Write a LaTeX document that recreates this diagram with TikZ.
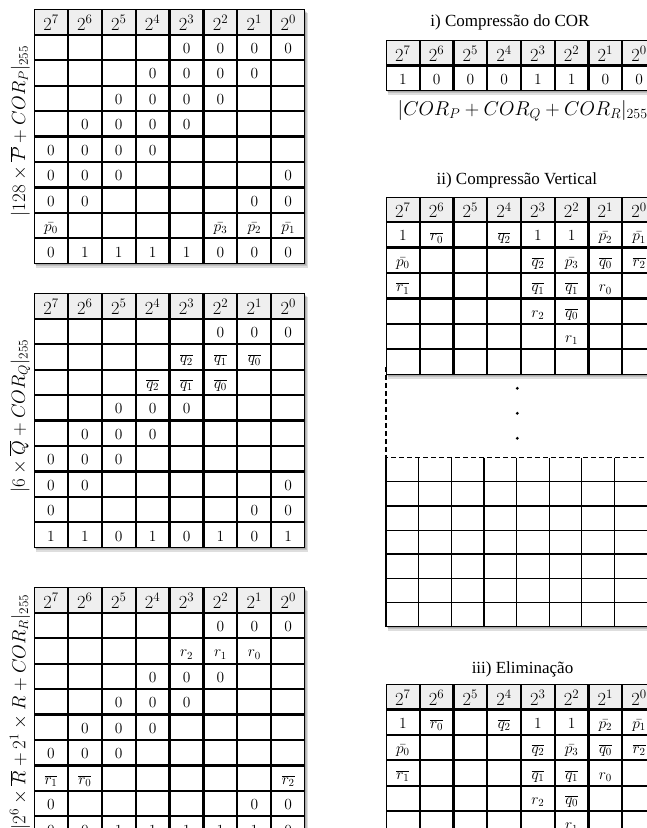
\documentclass[tikz,border=0pt]{standalone}
\usepackage{fix-cm}
\usepackage{fontspec}
\newfontfamily\titlefont{Liberation Serif}
\usetikzlibrary{matrix,backgrounds,calc}
\definecolor{hdr}{HTML}{EFEFEF}
\tikzset{
  cellbox/.style={draw=black, line width=1.1pt, fill=white, minimum width=32.8pt, minimum height=24.35pt, inner sep=0pt, outer sep=0pt, text height=13pt, text depth=1pt, font=\fontsize{15.5}{18}\selectfont},
  hdrbox/.style={fill=hdr, text height=17pt, text depth=0pt, font=\fontsize{18.5}{21}\selectfont},
  rcellbox/.style={cellbox, minimum width=32.65pt},
  tab/.style={matrix of math nodes, nodes in empty cells, anchor=north west, inner sep=0pt, outer sep=0pt, column sep=0pt, row sep=0pt, nodes={cellbox}, row 1/.style={nodes={hdrbox}}},
  rtab/.style={tab, nodes={rcellbox}},
  sidelabel/.style={rotate=90, font=\fontsize{19}{22}\selectfont, inner sep=0pt},
  titletext/.style={anchor=base, font=\titlefont\fontsize{17}{20}\selectfont, inner sep=0pt},
  shadowfill/.style={fill=black, opacity=0.13},
  gridline/.style={line width=1.1pt},
  dashline/.style={line width=1.1pt, dash pattern=on 5pt off 3pt},
}
\newcommand\tabshadow[2]{%
  \foreach \s in {1,2,3}{\fill[shadowfill] ($(#1)+(0.8*\s,-1.3*\s)$) rectangle ($(#2)+(0.8*\s,-1.3*\s)$);}}
\begin{document}
\begin{tikzpicture}[x=1pt,y=1pt]
\useasboundingbox (0,0) rectangle (647,828);

% ---------- left tables ----------
\matrix (t1) [tab] at (34,818.7) {
2^7 & 2^6 & 2^5 & 2^4 & 2^3 & 2^2 & 2^1 & 2^0 \\
 & & & & 0 & 0 & 0 & 0 \\
 & & & 0 & 0 & 0 & 0 & \\
 & & 0 & 0 & 0 & 0 & & \\
 & 0 & 0 & 0 & 0 & & & \\
0 & 0 & 0 & 0 & & & & \\
0 & 0 & 0 & & & & & 0 \\
0 & 0 & & & & & 0 & 0 \\
\bar{p_0} & & & & & \bar{p_3} & \bar{p_2} & \bar{p_1} \\
0 & 1 & 1 & 1 & 1 & 0 & 0 & 0 \\
};
\node[sidelabel] (l1) at (20,697) {$|128\times\overline{P}+COR_P|_{255}$};

\matrix (t2) [tab] at (34,534.7) {
2^7 & 2^6 & 2^5 & 2^4 & 2^3 & 2^2 & 2^1 & 2^0 \\
 & & & & & 0 & 0 & 0 \\
 & & & & \overline{q_2} & \overline{q_1} & \overline{q_0} & \\
 & & & \overline{q_2} & \overline{q_1} & \overline{q_0} & & \\
 & & 0 & 0 & 0 & & & \\
 & 0 & 0 & 0 & & & & \\
0 & 0 & 0 & & & & & \\
0 & 0 & & & & & & 0 \\
0 & & & & & & 0 & 0 \\
1 & 1 & 0 & 1 & 0 & 1 & 0 & 1 \\
};
\node[sidelabel] (l2) at (20,412) {$|6\times\overline{Q}+COR_Q|_{255}$};

\matrix (t3) [tab] at (34,240.7) {
2^7 & 2^6 & 2^5 & 2^4 & 2^3 & 2^2 & 2^1 & 2^0 \\
 & & & & & 0 & 0 & 0 \\
 & & & & r_2 & r_1 & r_0 & \\
 & & & 0 & 0 & 0 & & \\
 & & 0 & 0 & 0 & & & \\
 & 0 & 0 & 0 & & & & \\
0 & 0 & 0 & & & & & \\
\overline{r_1} & \overline{r_0} & & & & & & \overline{r_2} \\
0 & & & & & & 0 & 0 \\
0 & 0 & 1 & 1 & 1 & 1 & 1 & 0 \\
};
\node[sidelabel] (l3) at (20,116) {$|2^6\times\overline{R}+2^1\times R+COR_R|_{255}$};

% ---------- i) ----------
\node[titletext] (ti) at (510,801) {i) Compressão do COR};
\matrix (tA) [rtab] at (386,788) {
2^7 & 2^6 & 2^5 & 2^4 & 2^3 & 2^2 & 2^1 & 2^0 \\
1 & 0 & 0 & 0 & 1 & 1 & 0 & 0 \\
};
\node[anchor=base west, inner sep=0pt, font=\fontsize{20}{24}\selectfont] (fA) at (397.5,712) {$|COR_P+COR_Q+COR_R|_{255}$};

% ---------- ii) ----------
\node[titletext] (tii) at (516.8,643) {ii) Compressão Vertical};
\matrix (tB) [rtab] at (386,631.3) {
2^7 & 2^6 & 2^5 & 2^4 & 2^3 & 2^2 & 2^1 & 2^0 \\
1 & \overline{r_0} & & \overline{q_2} & 1 & 1 & \bar{p_2} & \bar{p_1} \\
\bar{p_0} & & & & \overline{q_2} & \bar{p_3} & \overline{q_0} & \overline{r_2} \\
\overline{r_1} & & & & \overline{q_1} & \overline{q_1} & r_0 & \\
 & & & & r_2 & \overline{q_0} & & \\
 & & & & & r_1 & & \\
 & & & & & & & \\
};
% dashed gap
\draw[dashline] (386,461.2) -- (386,370.3) -- (647.2,370.3) -- (647.2,461.2);
\foreach \yy in {439.7,414.7,389.7}{\fill (517.3,\yy) circle (1.6pt);}
% bottom grid
\foreach \k in {0,...,8}{\draw[gridline] (386+32.65*\k,370.3) -- (386+32.65*\k,201.3);}
\foreach \j in {1,2,3,5,6,7}{\draw[gridline] (386,370.3-24.14*\j) -- (647.2,370.3-24.14*\j);}
\draw[line width=2pt] (386,273.74) -- (647.2,273.74);

% ---------- iii) ----------
\node[titletext] (tiii) at (522.5,154.7) {iii) Eliminação};
\matrix (tC) [rtab] at (386,144) {
2^7 & 2^6 & 2^5 & 2^4 & 2^3 & 2^2 & 2^1 & 2^0 \\
1 & \overline{r_0} & & \overline{q_2} & 1 & 1 & \bar{p_2} & \bar{p_1} \\
\bar{p_0} & & & & \overline{q_2} & \bar{p_3} & \overline{q_0} & \overline{r_2} \\
\overline{r_1} & & & & \overline{q_1} & \overline{q_1} & r_0 & \\
 & & & & r_2 & \overline{q_0} & & \\
 & & & & & r_1 & & \\
};

% ---------- shadows ----------
\begin{scope}[on background layer]
  \tabshadow{t1.south west}{t1.north east}
  \tabshadow{t2.south west}{t2.north east}
  \tabshadow{t3.south west}{t3.north east}
  \tabshadow{tA.south west}{tA.north east}
  \tabshadow{tB.south west}{tB.north east}
  \tabshadow{tC.south west}{tC.north east}
  \foreach \s in {1,2,3}{\fill[shadowfill] (386+0.8*\s,201.3-1.3*\s) rectangle (647.2+0.8*\s,370.3-1.3*\s);}
  \fill[white] (386,201.3) rectangle (647.2,370.3);
\end{scope}
\end{tikzpicture}
\end{document}
